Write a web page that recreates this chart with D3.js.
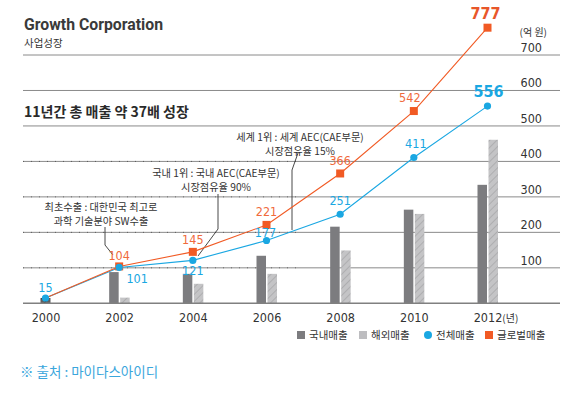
<!DOCTYPE html>
<html><head><meta charset="utf-8">
<script src="https://cdn.jsdelivr.net/npm/d3@7"></script>
<style>
body{margin:0;background:#fff;}
svg{display:block;}
text{font-family:"Liberation Sans Narrow","DejaVu Sans Condensed","Noto Sans CJK KR",sans-serif;fill:#333;}
.kr{font-family:"Noto Sans CJK KR",sans-serif;}
</style></head><body>
<svg id="c" width="572" height="393"></svg>
<script>
const years = [2000, 2002, 2004, 2006, 2008, 2010, 2012];
const domestic = [15, 88, 83, 134, 216, 264, 334];
const overseas = [0, 16, 55, 83, 149, 252, 461];
const total = [15, 101, 121, 177, 251, 411, 556];
const global = [15, 104, 145, 221, 366, 542, 777];
const yTicks = [100, 200, 300, 400, 500, 600, 700];
const legendLabels = ["국내매출", "해외매출", "전체매출", "글로벌매출"];
const notes = [
  {lines:["최초수출 : 대한민국 최고로", "과학 기술분야 SW수출"]},
  {lines:["국내 1위 : 국내 AEC(CAE부문)", "시장점유율 90%"]},
  {lines:["세계 1위 : 세계 AEC(CAE부문)", "시장점유율 15%"]}
];

const C = {dark:"#7c7c7f", light:"#c4c4c6", hatch:"#8c8c8f", blue:"#1aa7e2", orange:"#f15a24", grid:"#8a8a8a"};
const svg = d3.select("#c");
const x = d3.scaleLinear().domain([2000, 2012]).range([45.5, 487.5]);
const y = d3.scaleLinear().domain([0, 700]).range([303.3, 55]);
const X0 = 23, X1 = 560;

// patterns
const defs = svg.append("defs");
function hatch(id, bg, fg){
  const p = defs.append("pattern").attr("id", id).attr("patternUnits","userSpaceOnUse")
    .attr("width",5).attr("height",5).attr("patternTransform","rotate(45)");
  p.append("rect").attr("width",5).attr("height",5).attr("fill",bg);
  p.append("line").attr("x1",0).attr("y1",0).attr("x2",0).attr("y2",5).attr("stroke",fg).attr("stroke-width",0.8);
}
hatch("hL", C.light, C.hatch);
hatch("hD", "#5e5e60", "#111");

// titles
svg.append("text").attr("x",24).attr("y",30).attr("font-size",15.8).attr("font-weight","bold")
  .style("font-family","Roboto,sans-serif").style("fill","#3a3a3a").text("Growth Corporation");
svg.append("text").attr("class","kr").attr("x",24).attr("y",46.5).attr("font-size",10.5).text("사업성장");
svg.append("text").attr("class","kr").attr("x",24).attr("y",117).attr("font-size",14).attr("font-weight","bold")
  .style("fill","#2a2a2a").text("11년간 총 매출 약 37배 성장");
svg.append("text").attr("class","kr").attr("x",547).attr("y",36).attr("font-size",10).attr("text-anchor","end").text("(억 원)");

// gridlines
const g = svg.append("g");
g.selectAll("line.grid").data(yTicks).join("line").attr("class","grid")
  .attr("x1",X0).attr("x2",X1).attr("y1",d=>y(d)).attr("y2",d=>y(d))
  .attr("stroke",C.grid).attr("stroke-width",1);
g.selectAll("line.dot").data(yTicks.filter(d=>d<=400)).join("line").attr("class","dot")
  .attr("x1",X0).attr("x2",300).attr("y1",d=>y(d)).attr("y2",d=>y(d))
  .attr("stroke","#333").attr("stroke-opacity",0.6).attr("stroke-width",1).attr("stroke-dasharray","1,7");
g.selectAll("text.yt").data(yTicks).join("text").attr("class","yt")
  .attr("x",542).attr("y",d=>y(d)-3).attr("text-anchor","end").attr("font-size",12.5).text(d=>d);

// bars
const bw = 9.5;
const bars = svg.append("g");
years.forEach((yr,i)=>{
  if (overseas[i] === 0) {
    bars.append("rect").attr("x",x(yr)-5).attr("width",10).attr("y",y(domestic[i])).attr("height",y(0)-y(domestic[i])).attr("fill","url(#hD)");
  } else {
    bars.append("rect").attr("x",x(yr)-bw-0.5).attr("width",bw).attr("y",y(domestic[i])).attr("height",y(0)-y(domestic[i])).attr("fill",C.dark);
    bars.append("rect").attr("x",x(yr)+1).attr("width",bw).attr("y",y(overseas[i])).attr("height",y(0)-y(overseas[i])).attr("fill","url(#hL)");
  }
});

// baseline
svg.append("line").attr("x1",X0).attr("x2",X1).attr("y1",y(0)).attr("y2",y(0)).attr("stroke","#808080").attr("stroke-width",1.5);

// x axis
const xAxis = svg.append("g").attr("transform",`translate(0,${y(0)})`)
  .call(d3.axisBottom(x).tickValues(years).tickSize(0).tickPadding(10).tickFormat(d3.format("d")));
xAxis.select(".domain").remove();
xAxis.selectAll("text").attr("font-size",12.5).style("font-family","'Liberation Sans Narrow','DejaVu Sans Condensed',sans-serif").attr("fill","#333");
const last = xAxis.selectAll(".tick").filter(d=>d===2012).select("text");
last.append("tspan").attr("class","kr").style("font-family","'Noto Sans CJK KR',sans-serif").attr("font-size",10).text("(년)");
{
  const node = last.node();
  const full = node.getComputedTextLength();
  const sub = node.querySelector("tspan").getComputedTextLength();
  last.attr("text-anchor","start").attr("x", -(full - sub)/2);
}

// annotation leaders
const ann = svg.append("g").attr("stroke","#333").attr("stroke-width",0.9).attr("fill","none");
ann.append("polyline").attr("points",[[105,227],[105,245],[113,255]].join(" "));
ann.append("polyline").attr("points",[[218,194],[218,229],[198,256]].join(" "));
ann.append("polyline").attr("points",[[298,153],[292,170],[292,230]].join(" "));

const noteAnchor = [[101,210.5],[216,176.5],[300,140.5]];
notes.forEach((n,i)=>{
  n.lines.forEach((l,j)=>svg.append("text").attr("class","kr").attr("font-size",10.2).attr("text-anchor","middle")
    .attr("x",noteAnchor[i][0]).attr("y",noteAnchor[i][1]+j*14).text(l));
});

// lines
const line = d3.line().x((d,i)=>x(years[i])).y(d=>y(d));
svg.append("path").datum(total).attr("d",line).attr("fill","none").attr("stroke",C.blue).attr("stroke-width",1.1);
svg.append("path").datum(global).attr("d",line).attr("fill","none").attr("stroke",C.orange).attr("stroke-width",1.1);

svg.selectAll("rect.sq").data(global.slice(1)).join("rect").attr("class","sq")
  .attr("x",(d,i)=>x(years[i+1])-4).attr("y",d=>y(d)-4).attr("width",8).attr("height",8).attr("fill",C.orange);
svg.selectAll("circle.pt").data(total).join("circle").attr("class","pt")
  .attr("cx",(d,i)=>x(years[i])).attr("cy",d=>y(d)).attr("r",3.6).attr("fill",C.blue);

// value labels
const blueOff = [[0,-6],[18,16],[0,15],[-1,-3.5],[0,-9],[2,-10],[1,-9]];
const orangeOff = [null,[0,-6],[0,-8],[0,-9],[0,-8],[-4,-9],[-2,-9]];
total.forEach((v,i)=>{
  const big = i===total.length-1;
  svg.append("text").attr("x",x(years[i])+blueOff[i][0]).attr("y",y(v)+blueOff[i][1])
    .attr("text-anchor","middle").attr("font-size",big?16:12.5).attr("font-weight",big?"bold":"normal")
    .style("fill",C.blue).text(v);
});
global.forEach((v,i)=>{
  if(!orangeOff[i]) return;
  const big = i===global.length-1;
  svg.append("text").attr("x",x(years[i])+orangeOff[i][0]).attr("y",y(v)+orangeOff[i][1])
    .attr("text-anchor","middle").attr("font-size",big?16:12.5).attr("font-weight",big?"bold":"normal")
    .style("fill",big?"#e8562a":"#f06a3c").text(v);
});

// legend
const lg = svg.append("g").attr("transform","translate(0,335)");
const lx = [297, 359, 424, 485];
lg.append("rect").attr("x",lx[0]).attr("y",-4).attr("width",8).attr("height",8).attr("fill",C.dark);
lg.append("rect").attr("x",lx[1]).attr("y",-4).attr("width",8).attr("height",8).attr("fill","#bdbdc0");
lg.append("circle").attr("cx",lx[2]+4).attr("cy",0).attr("r",4).attr("fill",C.blue);
lg.append("rect").attr("x",lx[3]).attr("y",-4).attr("width",8).attr("height",8).attr("fill",C.orange);
legendLabels.forEach((l,i)=>{
  lg.append("text").attr("class","kr").attr("x",lx[i]+12).attr("y",3.8).attr("font-size",10.5).text(l);
});

// source
svg.append("text").attr("class","kr").attr("x",20).attr("y",377).attr("font-size",13.5).style("fill","#3aa6dc").text("※ 출처 : 마이다스아이디");
</script>
</body></html>
